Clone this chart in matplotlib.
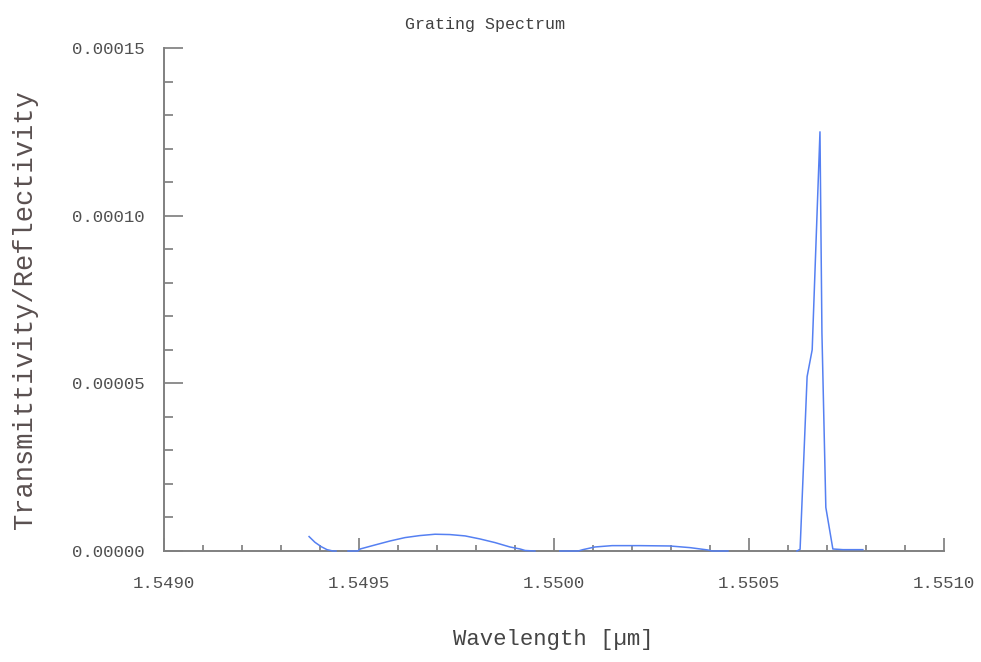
import numpy as np
import matplotlib.pyplot as plt
from matplotlib.ticker import MultipleLocator, FormatStrFormatter

# Spectrum, wavelength in um; NaN marks gaps in the trace
wavelength = [1.549372, 1.549387, 1.549403, 1.549418, 1.549433, 1.549441, np.nan,
              1.549472, 1.549497, 1.549503, 1.549541, 1.549580, 1.549618,
              1.549656, 1.549695, 1.549733, 1.549772, 1.549810, 1.549849,
              1.549887, 1.549913, 1.549926, 1.549951, np.nan,
              1.550015, 1.550062, 1.550074, 1.550105, 1.550149, 1.550220,
              1.550297, 1.550349, 1.550395, 1.550405, 1.550446, np.nan,
              1.550623, 1.550631, 1.550649, 1.550662, 1.550682, 1.550687,
              1.550697, 1.550715, 1.550741, 1.550792]
signal = [4.3e-6, 2.6e-6, 1.3e-6, 0.4e-6, 0.0, 0.0, np.nan,
          0.0, 0.0, 0.6e-6, 1.8e-6, 3.0e-6, 4.0e-6,
          4.6e-6, 5.0e-6, 4.9e-6, 4.5e-6, 3.6e-6, 2.5e-6,
          1.2e-6, 0.6e-6, 0.15e-6, 0.0, np.nan,
          0.0, 0.0, 0.4e-6, 1.2e-6, 1.6e-6, 1.6e-6,
          1.5e-6, 1.0e-6, 0.3e-6, 0.0, 0.0, np.nan,
          0.0, 0.5e-6, 5.2e-5, 6.0e-5, 1.25e-4, 6.5e-5,
          1.3e-5, 0.6e-6, 0.4e-6, 0.4e-6]

plt.rcParams['font.family'] = ['Liberation Mono', 'DejaVu Sans Mono']

fig = plt.figure(figsize=(9.81, 6.62), dpi=100)
ax = fig.add_axes([164 / 981, 1 - 551 / 662, 780 / 981, 503 / 662])

ax.plot(wavelength, signal, color='#5580f2', linewidth=1.1, clip_on=False,
        zorder=3)

ax.set_xlim(1.5490, 1.5510)
ax.set_ylim(0, 0.00015)
ax.xaxis.set_major_locator(MultipleLocator(0.0005))
ax.xaxis.set_minor_locator(MultipleLocator(0.0001))
ax.yaxis.set_major_locator(MultipleLocator(0.00005))
ax.yaxis.set_minor_locator(MultipleLocator(0.00001))
ax.xaxis.set_major_formatter(FormatStrFormatter('%.4f'))
ax.yaxis.set_major_formatter(FormatStrFormatter('%.5f'))

for side in ['top', 'right']:
    ax.spines[side].set_visible(False)
for side in ['left', 'bottom']:
    ax.spines[side].set_color('#808080')
    ax.spines[side].set_linewidth(1.4)

# tick lengths and pads are in points (0.72 pt per pixel at 100 dpi)
ax.tick_params(axis='x', which='major', direction='in', length=9.4, width=1.1,
               color='#707070', pad=18, labelsize=12.5, labelcolor='#505050')
ax.tick_params(axis='x', which='minor', direction='in', length=4.3, width=1.1,
               color='#707070')
ax.tick_params(axis='y', which='major', direction='in', length=13.7, width=1.1,
               color='#707070', pad=13.7, labelsize=12.5, labelcolor='#505050')
ax.tick_params(axis='y', which='minor', direction='in', length=6.5, width=1.1,
               color='#707070')

fig.text(0.494, 1 - 25 / 662, 'Grating Spectrum', ha='center', va='center',
         fontsize=12, color='#404040')
fig.text(553 / 981, 1 - 640 / 662, 'Wavelength [µm]', ha='center',
         va='center', fontsize=16, color='#454545')
fig.text(25 / 981, 1 - 310 / 662, 'Transmittivity/Reflectivity',
         ha='center', va='center', rotation=90, fontsize=19.5, color='#5a5050')

fig.savefig('out.png', dpi=100)
